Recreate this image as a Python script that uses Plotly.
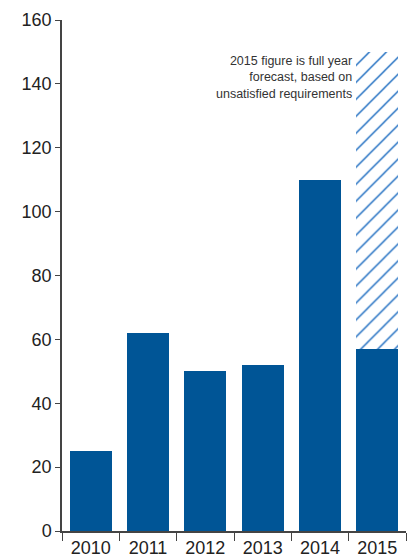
import plotly.graph_objects as go

years = ["2010", "2011", "2012", "2013", "2014", "2015"]
actual = [25, 62, 50, 52, 110, 57]
forecast_years = ["2015"]
forecast_extra = [93]  # 2015 full-year forecast total 150, on top of 57
y_ticks = [0, 20, 40, 60, 80, 100, 120, 140, 160]
note = "2015 figure is full year<br>forecast, based on<br>unsatisfied requirements"

blue = "#005596"
axis_col = "#444444"
font_family = "Liberation Sans, Arial, Helvetica, sans-serif"

fig = go.Figure()
fig.add_trace(go.Bar(x=years, y=actual, marker=dict(color=blue, line=dict(width=0)),
                     width=0.73, showlegend=False))
fig.add_trace(go.Bar(x=forecast_years, y=forecast_extra, width=0.73, showlegend=False,
                     marker=dict(color="#0d62bc", line=dict(width=0),
                                 pattern=dict(shape="/", fgcolor="#0d62bc", fgopacity=1,
                                              bgcolor="white", fillmode="replace",
                                              size=12, solidity=0.11))))

fig.update_layout(
    barmode="stack",
    width=411, height=555,
    margin=dict(l=62, r=5, t=20, b=24),
    paper_bgcolor="white", plot_bgcolor="white",
    font=dict(family=font_family, color="#222222"),
    xaxis=dict(type="category", showline=True, linecolor=axis_col, linewidth=1.5,
               ticks="outside", tickson="boundaries", ticklen=8, tickcolor=axis_col,
               tickfont=dict(size=18), showgrid=False, zeroline=False,
               range=[-0.5, 5.5], automargin=False),
    yaxis=dict(range=[0, 160], tickvals=y_ticks, showline=True, linecolor=axis_col,
               linewidth=1.5, ticks="outside", ticklen=5, tickcolor=axis_col,
               tickfont=dict(size=18), showgrid=False, zeroline=False, automargin=False),
    annotations=[dict(x=4.6, y=150, xref="x", yref="y", xanchor="right", yanchor="top",
                      text=note, showarrow=False, align="right",
                      font=dict(size=12.5, color="#333333"))],
)

fig.write_html("out.html")
